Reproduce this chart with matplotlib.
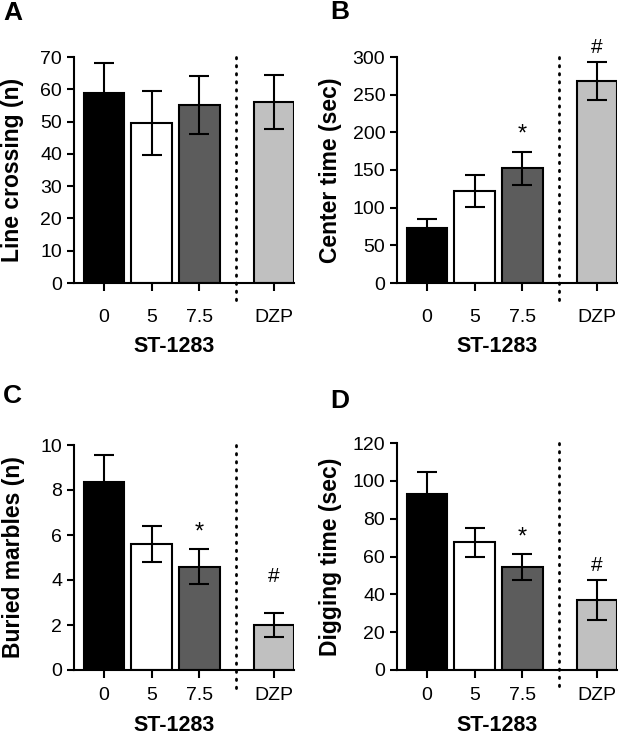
import matplotlib
matplotlib.use('Agg')
import matplotlib.pyplot as plt
import matplotlib.transforms as mtransforms

plt.rcParams['font.family'] = ['Liberation Sans', 'DejaVu Sans']

#   DATOS
groups = ['0', '5', '7.5', 'DZP']
bar_colors = ['#000000', '#ffffff', '#5c5c5c', '#c0c0c0']

line_mean = [59, 49.5, 55, 56]
line_err = [9, 10, 9, 8.3]

center_mean = [73, 122, 152, 268]
center_err = [12, 21, 22, 25]

marbles_mean = [8.35, 5.6, 4.6, 2.0]
marbles_err = [1.2, 0.78, 0.78, 0.52]

digging_mean = [93, 67.5, 54.5, 37]
digging_err = [11.5, 7.5, 7, 10.5]

#   (panel, ylabel, ymax, ystep, means, errs, marcas)
panels = [
    ('A', 'Line crossing (n)', 70, 10, line_mean, line_err, {}),
    ('B', 'Center time (sec)', 300, 50, center_mean, center_err, {2: ('*', 197), 3: ('#', 312)}),
    ('C', 'Buried marbles (n)', 10, 2, marbles_mean, marbles_err, {2: ('*', 6.1), 3: ('#', 4.15)}),
    ('D', 'Digging time (sec)', 120, 20, digging_mean, digging_err, {2: ('*', 70), 3: ('#', 55.5)}),
]

xpos = [0, 1, 2, 3.57]
xsep = 2.77

W, H = 621, 736
fig = plt.figure(figsize=(W / 100, H / 100), dpi=100)

# pixeles: (izq, arriba, abajo, ylabel x, pad ticks, ST baseline px, letra x, letra y)
boxes = [(74, 57, 283, -0.227, 13, 352, 3, 13),
         (397, 57, 283, -0.25, 13, 352, 330, 12),
         (74, 445, 670, -0.223, 6, 731, 3, 396),
         (397, 443, 670, -0.25, 6, 731, 330, 401)]
ax_w = 220

for (letter, ylab, ymax, ystep, means, errs, marks), (lx, top, bot, ylx, pad, sty, ltx, lty) in zip(panels, boxes):
    ax = fig.add_axes([lx / W, 1 - bot / H, ax_w / W, (bot - top) / H])
    ax.bar(xpos, means, width=0.86, color=bar_colors, edgecolor='k', linewidth=1.5, zorder=2)
    ax.errorbar(xpos, means, yerr=errs, fmt='none', ecolor='k', elinewidth=1.5,
                capsize=7.5, capthick=1.5, zorder=3)
    ax.set_xlim(-0.63, 3.99)
    ax.set_ylim(0, ymax)
    ax.set_yticks(range(0, ymax + 1, ystep))
    ax.set_xticks(xpos)
    ax.set_xticklabels(groups)
    ax.tick_params(axis='both', labelsize=14, width=1.5, length=5, color='k')
    ax.tick_params(axis='x', length=6, pad=pad)
    for s in ['top', 'right']:
        ax.spines[s].set_visible(False)
    for s in ['left', 'bottom']:
        ax.spines[s].set_linewidth(1.5)

    ax.set_ylabel(ylab, fontsize=16.5, fontweight='bold')
    ax.yaxis.set_label_coords(ylx, 0.5)
    fig.text((lx + 0.455 * ax_w) / W, 1 - sty / H, 'ST-1283', ha='center', va='baseline',
             fontsize=15.5, fontweight='bold')

    # linea punteada de separacion
    trans = mtransforms.blended_transform_factory(ax.transData, ax.transAxes)
    ax.plot([xsep, xsep], [1.0, -0.09], transform=trans, color='k', lw=2,
            linestyle=(0, (0.5, 2.4)), dash_capstyle='round', clip_on=False)

    for i, (sym, yv) in marks.items():
        ax.text(xpos[i], yv, sym, ha='center', va='center',
                fontsize=17 if sym == '*' else 15, clip_on=False)

    fig.text(ltx / W, 1 - lty / H, letter, fontsize=19, fontweight='bold',
             ha='left', va='center')

plt.savefig('out.png', dpi=100)
